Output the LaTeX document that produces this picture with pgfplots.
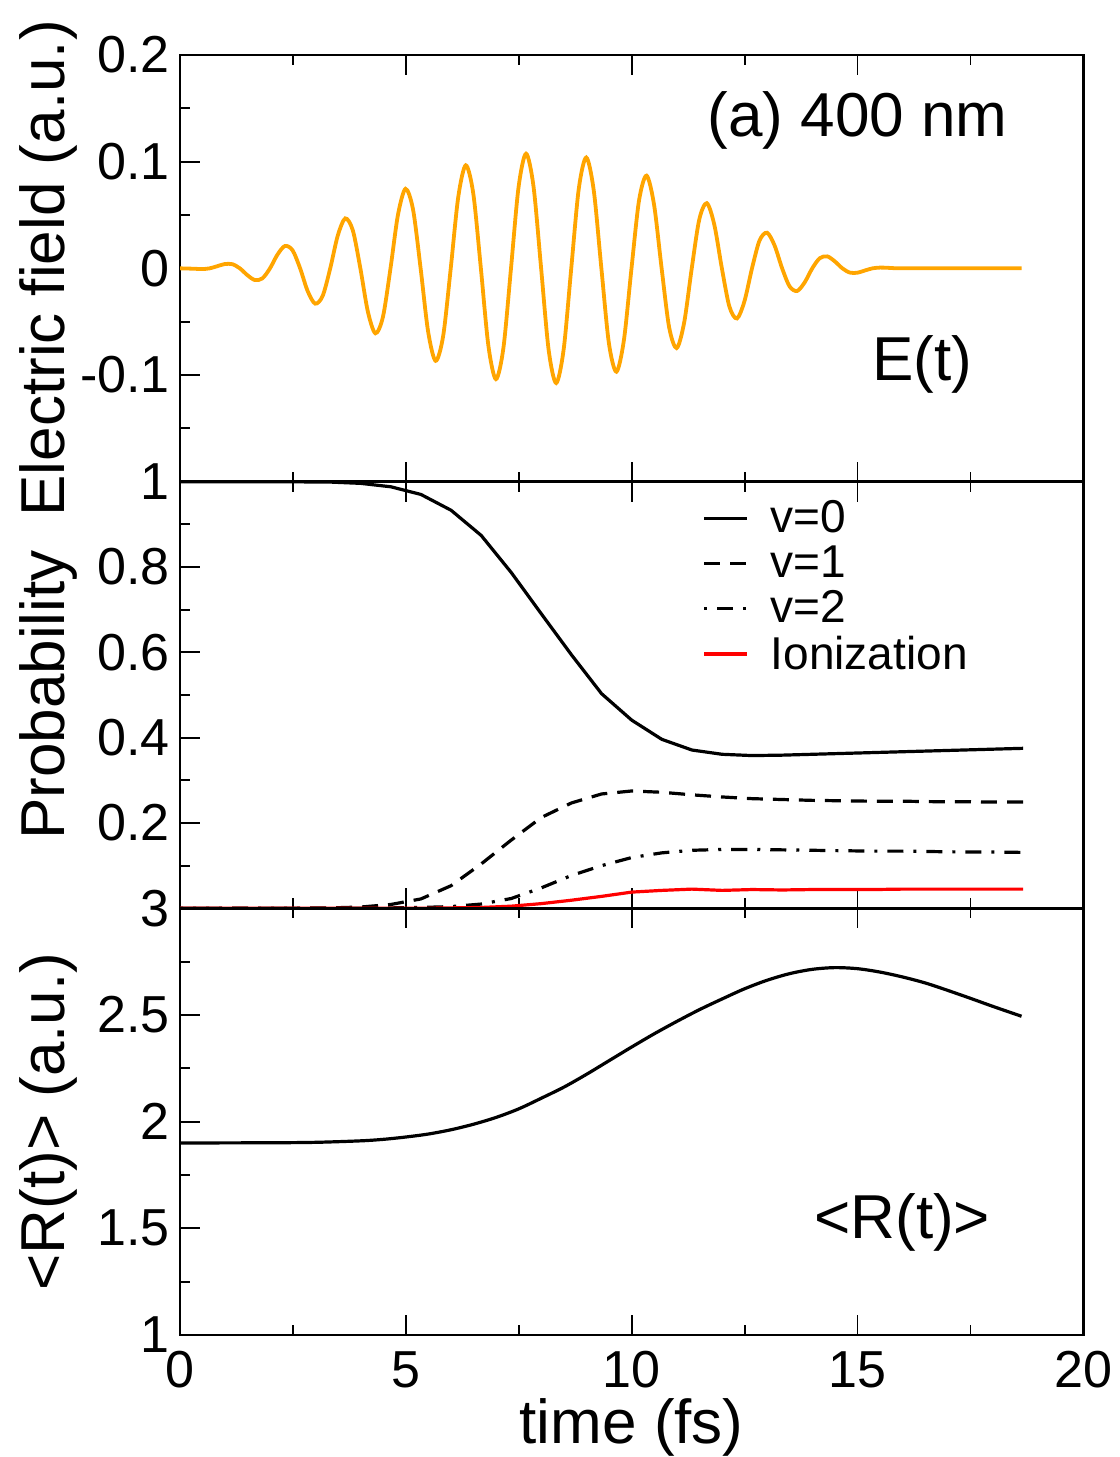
\documentclass[border=0pt]{standalone}
\usepackage{fontspec}
\setmainfont{Liberation Sans}
\usepackage{pgfplots}
\usepackage{pgfplotstable}
\pgfplotsset{compat=1.18}
\usetikzlibrary{calc}

\pgfplotstableread{
t      v0     v1     v2    ion
0      1.000  0.000  0.000 0.000
0.667  1.000  0.000  0.000 0.000
1.333  1.000  0.000  0.000 0.000
2.000  1.000  0.000  0.000 0.000
2.667  0.9995 0.0005 0.000 0.000
3.333  0.999  0.001  0.000 0.000
4.000  0.996  0.003  0.000 0.000
4.667  0.988  0.009  0.001 0.000
5.333  0.970  0.022  0.002 0.000
6.000  0.933  0.053  0.004 0.001
6.667  0.874  0.104  0.010 0.002
7.333  0.787  0.160  0.023 0.005
8.000  0.690  0.213  0.048 0.011
8.667  0.594  0.247  0.077 0.019
9.333  0.503  0.268  0.100 0.028
10.000 0.441  0.275  0.119 0.038
10.667 0.396  0.272  0.130 0.042
11.333 0.371  0.266  0.136 0.045
12.000 0.361  0.261  0.138 0.042
12.667 0.358  0.257  0.138 0.044
13.333 0.359  0.255  0.137 0.043
14.000 0.361  0.253  0.136 0.044
14.667 0.363  0.252  0.135 0.044
15.333 0.365  0.251  0.134 0.044
16.000 0.367  0.251  0.134 0.045
16.667 0.369  0.250  0.133 0.045
17.333 0.371  0.250  0.132 0.045
18.000 0.373  0.249  0.132 0.045
18.667 0.375  0.249  0.131 0.045
}\probtable

\pgfplotstableread{
t     R
0     1.900
2     1.901
3     1.903
4     1.910
4.5   1.917
5     1.928
5.5   1.942
6     1.962
6.5   1.988
7     2.020
7.5   2.060
8     2.110
8.5   2.162
9     2.222
9.5   2.286
10    2.350
10.5  2.412
11    2.470
11.5  2.525
12    2.575
12.5  2.623
13    2.663
13.5  2.694
14    2.714
14.5  2.722
15    2.717
15.5  2.701
16    2.678
16.5  2.650
17    2.615
17.5  2.578
18    2.540
18.63 2.494
}\rtable

\definecolor{eorange}{RGB}{255,165,0}

\pgfplotsset{
  panel/.style={
    scale only axis, width=451.5pt, height=213.25pt,
    xmin=0, xmax=20,
    xtick={0,5,10,15,20}, minor x tick num=1,
    minor y tick num=1,
    xtick pos=both, ytick pos=left,
    tick align=inside,
    major tick length=10pt, minor tick length=5pt,
    tick style={black, line width=0.9pt},
    axis line style={line width=1.3pt},
    tick label style={font=\fontsize{26}{26}\selectfont},
    /pgf/number format/assume math mode=true,
    yticklabel style={inner sep=0pt, xshift=-5pt},
    xticklabel style={inner sep=0pt, yshift=-8pt},
    every axis y label/.style={at={($(axis description cs:0,0.5)+(-58pt,0)$)}, rotate=90, anchor=base},
    every axis x label/.style={at={($(axis description cs:0.5,0)+(0,-54pt)$)}, anchor=base},
    label style={font=\fontsize{31}{31}\selectfont},
  },
  mylegimg/.style={legend image code/.code={\draw[##1] (0pt,0pt) -- (21.5pt,0pt);}},
}

\begin{document}
\begin{tikzpicture}
% ---------------- top panel ----------------
\begin{axis}[panel, name=top,
  ymin=-0.2, ymax=0.2,
  ytick={-0.2,-0.1,0,0.1,0.2}, yticklabels={,-0.1,0,0.1,0.2},
  xticklabels={},
  ylabel={Electric field (a.u.)}]
\addplot[eorange, line width=1.9pt, smooth] coordinates {
(0,0) (0.323,-0.0004) (0.490,-0.0007) (0.657,0) (0.823,0.0020) (0.990,0.0040)
(1.157,0.0039) (1.324,0) (1.490,-0.0064) (1.657,-0.0110) (1.824,-0.0094) (1.991,0)
(2.157,0.0129) (2.324,0.0210) (2.491,0.0169) (2.658,0) (2.824,-0.0212) (2.991,-0.0331)
(3.158,-0.0258) (3.325,0) (3.491,0.0306) (3.658,0.0468) (3.825,0.0356) (3.992,0)
(4.158,-0.0406) (4.325,-0.0609) (4.492,-0.0455) (4.659,0) (4.825,0.0503) (4.992,0.0745)
(5.159,0.0550) (5.326,0) (5.492,-0.0593) (5.659,-0.0867) (5.826,-0.0632) (5.993,0)
(6.159,0.0668) (6.326,0.0966) (6.493,0.0698) (6.660,0) (6.826,-0.0724) (6.993,-0.1039)
(7.160,-0.0744) (7.327,0) (7.493,0.0756) (7.660,0.1075) (7.827,0.0763) (7.994,0)
(8.160,-0.0763) (8.327,-0.1075) (8.494,-0.0757) (8.661,0) (8.827,0.0744) (8.994,0.1039)
(9.161,0.0725) (9.328,0) (9.494,-0.0700) (9.661,-0.0969) (9.828,-0.0670) (9.995,0)
(10.161,0.0634) (10.328,0.0869) (10.495,0.0595) (10.662,0) (10.828,-0.0552) (10.995,-0.0748)
(11.162,-0.0506) (11.329,0) (11.495,0.0457) (11.662,0.0611) (11.829,0.0408) (11.996,0)
(12.162,-0.0358) (12.329,-0.0470) (12.496,-0.0308) (12.663,0) (12.829,0.0260) (12.996,0.0334)
(13.163,0.0214) (13.330,0) (13.496,-0.0170) (13.663,-0.0212) (13.830,-0.0131) (13.997,0)
(14.163,0.0095) (14.330,0.0112) (14.497,0.0065) (14.664,0) (14.830,-0.0040) (14.997,-0.0041)
(15.164,-0.0020) (15.331,0) (15.497,0.0007) (15.664,0.0005) (15.831,0.0001) (15.998,0)
(18.63,0)
};
\node[font=\fontsize{31}{31}\selectfont] at (axis cs:15.0,0.139) {(a) 400 nm};
\node[font=\fontsize{31}{31}\selectfont] at (axis cs:16.43,-0.090) {E(t)};
\end{axis}

% ---------------- middle panel ----------------
\begin{axis}[panel, name=mid, at={(top.south west)}, anchor=north west,
  ymin=0, ymax=1,
  ytick={0,0.2,0.4,0.6,0.8,1}, yticklabels={,0.2,0.4,0.6,0.8,1},
  xticklabels={},
  ylabel={Probability},
  legend style={draw=none, fill=none, at={(axis cs:11.56,0.956)}, anchor=north west,
    inner sep=0pt, row sep=5pt, column sep=11pt,
    font=\fontsize{23}{23}\selectfont, nodes={inner sep=0pt}},
  legend cell align=left,
  mylegimg]
\addplot[black, line width=1.6pt] table[x=t, y=v0] {\probtable};
\addlegendentry{v=0}
\addplot[black, line width=1.6pt, dash pattern=on 8pt off 5pt] table[x=t, y=v1] {\probtable};
\addlegendentry{v=1}
\addplot[black, line width=1.6pt, dash pattern=on 1.5pt off 5pt on 8pt off 5pt] table[x=t, y=v2] {\probtable};
\addlegendentry{v=2}
\addplot[red, line width=1.6pt] table[x=t, y=ion] {\probtable};
\addlegendentry{Ionization}
\end{axis}

% ---------------- bottom panel ----------------
\begin{axis}[panel, name=bot, at={(mid.south west)}, anchor=north west,
  ymin=1, ymax=3,
  ytick={1,1.5,2,2.5,3}, yticklabels={1,1.5,2,2.5,3},
  xlabel={time (fs)},
  ylabel={<R(t)> (a.u.)}]
\addplot[black, line width=1.6pt, smooth] table[x=t, y=R] {\rtable};
\node[font=\fontsize{31}{31}\selectfont] at (axis cs:15.99,1.529) {<R(t)>};
\end{axis}

\pgfresetboundingbox
\path ($(bot.south west)+(-90pt,-61pt)$) rectangle ($(top.north east)+(18pt,27.5pt)$);
\end{tikzpicture}
\end{document}
